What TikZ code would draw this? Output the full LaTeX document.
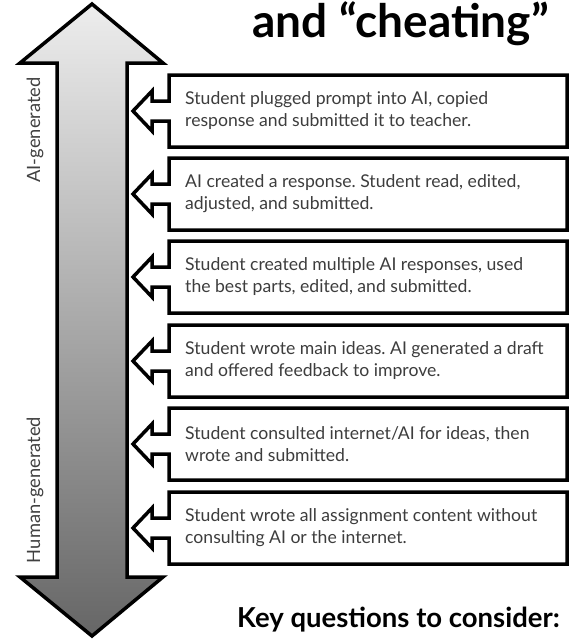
\documentclass[tikz,border=0pt]{standalone}
\usepackage{fontspec}
\setmainfont{Lato}
\begin{document}
\frenchspacing
\begin{tikzpicture}[x=1pt,y=-1pt,
  bigarrow/.style={draw=black,line width=3.5pt,line join=miter,top color=black!7,bottom color=black!60,shading angle=0},
  boxshape/.style={draw=black,line width=3.5pt,line join=miter,fill=white},
  boxtext/.style={anchor=west,align=left,font=\fontsize{17.6}{22}\selectfont,text=black!76,inner sep=0pt},
  sidelabel/.style={rotate=90,font=\fontsize{18.3}{20}\selectfont,text=black!75,inner sep=0pt},
  titletext/.style={font=\fontsize{46}{50}\selectfont\bfseries,inner sep=0pt},
  keytext/.style={font=\fontsize{27.5}{30}\selectfont\bfseries,inner sep=0pt}]
\useasboundingbox (0,0) rectangle (575,641);
% big double arrow
\draw[bigarrow] (92,4) -- (163,63) -- (127,63) -- (127,577) -- (163,577) -- (92,636) -- (20,577) -- (57,577) -- (57,63) -- (20,63) -- cycle;
% side labels
\node[sidelabel] (ai) at (35,130) {AI-generated};
\node[sidelabel] (human) at (35,490) {Human-generated};
% title
\node[titletext,anchor=base east] (title) at (549,37) {and “cheating”};
% boxes
\foreach \t/\name/\txt in {
  75/b1/{Student plugged prompt into AI, copied\\response and submitted it to teacher.},
  158/b2/{AI created a response. Student read, edited,\\adjusted, and submitted.},
  241/b3/{Student created multiple AI responses, used\\the best parts, edited, and submitted.},
  325/b4/{Student wrote main ideas. AI generated a draft\\and offered feedback to improve.},
  408/b5/{Student consulted internet/AI for ideas, then\\wrote and submitted.},
  492/b6/{Student wrote all assignment content without\\consulting AI or the internet.}}{
  \pgfmathsetmacro{\b}{\t+72}
  \pgfmathsetmacro{\c}{\t+36}
  \draw[boxshape] (169,\t) -- (567,\t) -- (567,\b) -- (169,\b) -- (169,\c+10) -- (152,\c+10) -- (152,\c+20) -- (133,\c) -- (152,\c-20) -- (152,\c-10) -- (169,\c-10) -- cycle;
  \node[boxtext] (\name) at (185,\c) {\txt};
}
% key questions
\node[keytext,anchor=base east] (key) at (560,627) {Key questions to consider:};
\end{tikzpicture}
\end{document}
